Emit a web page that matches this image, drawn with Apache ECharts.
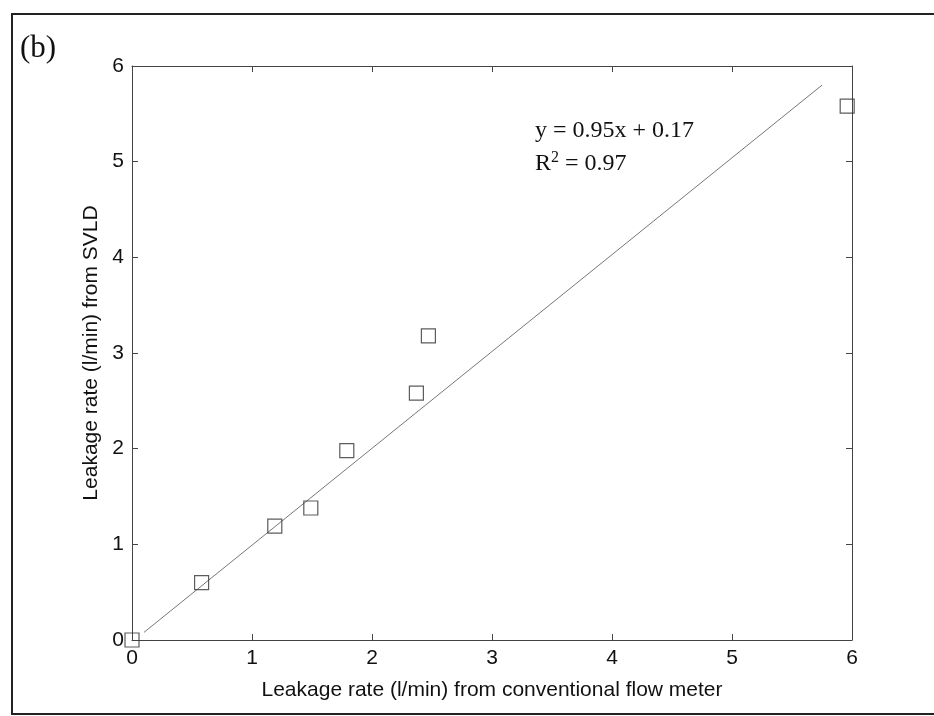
<!DOCTYPE html>
<html>
<head>
<meta charset="utf-8">
<script src="https://cdn.jsdelivr.net/npm/echarts@6/dist/echarts.min.js"></script>
<style>
  html, body { margin: 0; padding: 0; background: #fff; }
  #chart { width: 934px; height: 716px; }
</style>
</head>
<body>
<div id="chart"></div>
<script>
// measured points: conventional flow meter vs SVLD
const flowMeter = [0, 0.58, 1.19, 1.49, 1.79, 2.37, 2.47, 5.96];
const svld = [0, 0.6, 1.19, 1.38, 1.98, 2.58, 3.18, 5.58];
// fitted line as drawn
const fitX = [0.1, 5.75];
const fitY = [0.08, 5.8];

const chart = echarts.init(document.getElementById('chart'));

const axisFont = { fontFamily: 'Liberation Sans', fontSize: 21, color: '#111' };
const nameFont = { fontFamily: 'Liberation Sans', fontSize: 21, color: '#111' };

// box axes (top / right) only carry the line and inward ticks
function boxAxis(position) {
  return {
    type: 'value', min: 0, max: 6, interval: 1, position: position,
    axisLine: { onZero: false, lineStyle: { color: '#444', width: 1 } },
    axisTick: { inside: true, length: 6, lineStyle: { color: '#444' } },
    axisLabel: { show: false },
    splitLine: { show: false }
  };
}

const option = {
  animation: false,
  backgroundColor: '#fff',
  grid: { left: 132, right: 82, top: 66, bottom: 76, show: false },
  xAxis: [
    {
      type: 'value', min: 0, max: 6, interval: 1,
      name: 'Leakage rate (l/min) from conventional flow meter',
      nameLocation: 'middle', nameGap: 40,
      nameTextStyle: nameFont,
      axisLine: { onZero: false, lineStyle: { color: '#444', width: 1 } },
      axisTick: { inside: true, length: 6, lineStyle: { color: '#444' } },
      axisLabel: Object.assign({ margin: 8 }, axisFont),
      splitLine: { show: false }
    },
    boxAxis('top')
  ],
  yAxis: [
    {
      type: 'value', min: 0, max: 6, interval: 1,
      name: 'Leakage rate (l/min) from SVLD',
      nameLocation: 'middle', nameGap: 27,
      nameTextStyle: nameFont,
      axisLine: { onZero: false, lineStyle: { color: '#444', width: 1 } },
      axisTick: { inside: true, length: 6, lineStyle: { color: '#444' } },
      axisLabel: Object.assign({ margin: 8 }, axisFont),
      splitLine: { show: false }
    },
    boxAxis('right')
  ],
  series: [
    {
      name: 'fit',
      type: 'line',
      data: fitX.map((x, i) => [x, fitY[i]]),
      symbol: 'none',
      lineStyle: { color: '#777', width: 1 },
      z: 2
    },
    {
      name: 'measured',
      type: 'scatter',
      data: flowMeter.map((x, i) => [x, svld[i]]),
      symbol: 'rect',
      symbolSize: 14,
      clip: false,
      itemStyle: { color: 'rgba(255,255,255,0)', borderColor: '#333', borderWidth: 1.2 },
      z: 3
    }
  ],
  graphic: [
    {
      type: 'rect',
      shape: { x: 12, y: 14, width: 940, height: 700 },
      style: { fill: 'none', stroke: '#222', lineWidth: 2 },
      silent: true
    },
    {
      type: 'text', left: 20, top: 33,
      style: { text: '(b)', font: '31px "Liberation Serif"', fill: '#111' }
    },
    {
      type: 'text', left: 535, top: 119,
      style: { text: 'y = 0.95x + 0.17', font: '24px "Liberation Serif"', fill: '#111' }
    },
    {
      type: 'text', left: 535, top: 150,
      style: {
        text: 'R{sup|2} = 0.97',
        font: '24px "Liberation Serif"', fill: '#111',
        rich: { sup: { fontSize: 16, fontFamily: 'Liberation Serif', verticalAlign: 'top', padding: [0, 0, 11, 0] } }
      }
    }
  ]
};

chart.setOption(option);
</script>
</body>
</html>
